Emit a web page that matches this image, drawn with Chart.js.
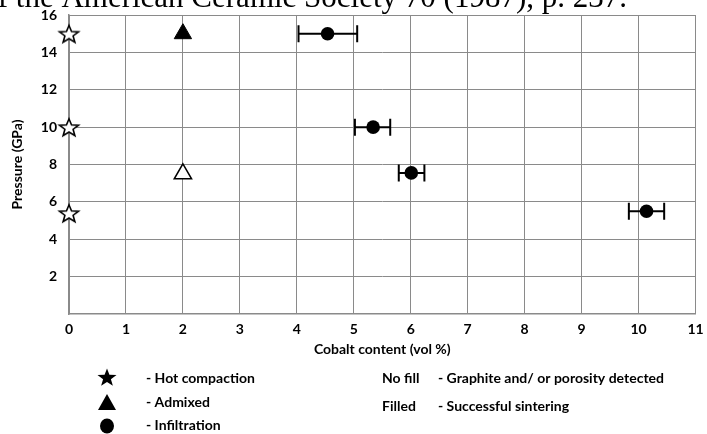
<!DOCTYPE html>
<html>
<head>
<meta charset="utf-8">
<script src="https://cdn.jsdelivr.net/npm/chart.js@4.4.1/dist/chart.umd.min.js"></script>
<style>
  body { margin: 0; background: #fff; }
  #box { width: 707px; height: 434px; }
</style>
</head>
<body>
<div id="box"><canvas id="dia"></canvas></div>
<script>
// data
const starX = [0, 0, 0];
const starY = [15, 10, 5.4];
const triFullX = [2];
const triFullY = [15];
const triEmptyX = [2];
const triEmptyY = [7.5];
const circX = [4.54, 5.34, 6.01, 10.14];
const circY = [15, 10, 7.55, 5.5];
const errLow = [4.03, 5.02, 5.79, 9.83];
const errHigh = [5.06, 5.64, 6.24, 10.45];
const xTicks = [0, 1, 2, 3, 4, 5, 6, 7, 8, 9, 10, 11];
const yTicks = [2, 4, 6, 8, 10, 12, 14, 16];

const cite = "Journal of the American Ceramic Society 70 (1987), p. 237.";
const legendLeft = ["- Hot compaction", "- Admixed", "- Infiltration"];
const legendRight = [["No fill", "- Graphite and/ or porosity detected"], ["Filled", "- Successful sintering"]];

const FONT = "Lato, 'Liberation Sans', sans-serif";

function pts(xs, ys) {
  return xs.map((x, i) => ({ x: x, y: ys[i] }));
}

// 5 branch star as a small canvas, used as pointStyle
function starPath(ctx, cx, cy, R, r, sy) {
  ctx.beginPath();
  for (let k = 0; k < 10; k++) {
    let a = -Math.PI / 2 + k * Math.PI / 5;
    let rad = k % 2 == 0 ? R : r;
    let px = cx + rad * Math.cos(a), py = cy + rad * Math.sin(a) * sy;
    if (k == 0) ctx.moveTo(px, py); else ctx.lineTo(px, py);
  }
  ctx.closePath();
}
function makeStar(filled) {
  let c = document.createElement("canvas");
  c.width = 24; c.height = 22;
  let g = c.getContext("2d");
  starPath(g, 12, 12, 10, 4.3, 0.92);
  g.fillStyle = filled ? "#000" : "#fff";
  g.fill();
  g.lineWidth = 1.6;
  g.strokeStyle = "#000";
  g.stroke();
  return c;
}
const starImg = makeStar(false);

// horizontal error bars on the circles
const errorBars = {
  id: "errorBars",
  beforeDatasetsDraw(chart) {
    const ctx = chart.ctx, xs = chart.scales.x, ys = chart.scales.y;
    ctx.save();
    ctx.strokeStyle = "#000";
    ctx.lineWidth = 2;
    circY.forEach((v, i) => {
      let y = ys.getPixelForValue(v);
      let a = xs.getPixelForValue(errLow[i]);
      let b = xs.getPixelForValue(errHigh[i]);
      ctx.beginPath();
      ctx.moveTo(a, y); ctx.lineTo(b, y);
      ctx.moveTo(a, y - 8.5); ctx.lineTo(a, y + 8.5);
      ctx.moveTo(b, y - 8.5); ctx.lineTo(b, y + 8.5);
      ctx.stroke();
    });
    ctx.restore();
  }
};

// citation text at top + legend under the axis
const extras = {
  id: "extras",
  afterDraw(chart) {
    const ctx = chart.ctx;
    ctx.save();
    ctx.fillStyle = "#000";
    ctx.font = "31px 'Liberation Serif', serif";
    ctx.textAlign = "right";
    ctx.textBaseline = "alphabetic";
    ctx.fillText(cite, 627, 7);

    // symbols
    let sx = 107;
    starPath(ctx, sx, 378, 10, 4.1, 0.95);
    ctx.fill();
    ctx.beginPath();
    ctx.moveTo(sx, 394); ctx.lineTo(sx + 9, 410); ctx.lineTo(sx - 9, 410);
    ctx.closePath(); ctx.fill();
    ctx.beginPath();
    ctx.ellipse(sx, 426, 7, 7.5, 0, 0, Math.PI * 2);
    ctx.fill();

    ctx.font = "bold 14px " + FONT;
    ctx.textAlign = "left";
    ctx.textBaseline = "middle";
    let ly = [378, 402, 425];
    legendLeft.forEach((t, i) => ctx.fillText(t, 146, ly[i]));
    let ry = [378, 406];
    legendRight.forEach((p, i) => {
      ctx.fillText(p[0], 382, ry[i]);
      ctx.fillText(p[1], 438, ry[i]);
    });
    ctx.restore();
  }
};

const gridCol = "#8a8a8a";

new Chart(document.getElementById("dia"), {
  type: "scatter",
  data: {
    datasets: [
      { data: pts(starX, starY), pointStyle: starImg, clip: false },
      { data: pts(triFullX, triFullY), pointStyle: "triangle", pointRadius: 10,
        backgroundColor: "#000", borderColor: "#000", borderWidth: 1, clip: false },
      { data: pts(triEmptyX, triEmptyY), pointStyle: "triangle", pointRadius: 10,
        backgroundColor: "#fff", borderColor: "#000", borderWidth: 1.5, clip: false },
      { data: pts(circX, circY), pointStyle: "circle", pointRadius: 6.8,
        backgroundColor: "#000", borderColor: "#000", borderWidth: 0, clip: false }
    ]
  },
  options: {
    responsive: true,
    maintainAspectRatio: false,
    animation: false,
    events: [],
    layout: { padding: { top: 15, right: 8, left: 0, bottom: 0 } },
    plugins: { legend: { display: false }, tooltip: { enabled: false } },
    scales: {
      x: {
        type: "linear", min: 0, max: 11,
        afterBuildTicks: s => { s.ticks = xTicks.map(v => ({ value: v })); },
        afterFit: s => { s.height = 120; s.paddingLeft = 0; s.paddingRight = 0; },
        grid: { color: gridCol, lineWidth: 1, drawTicks: false },
        border: { color: gridCol, width: 1.5 },
        ticks: { color: "#000", padding: 7, font: { family: FONT, size: 14, weight: "bold" } },
        title: { display: true, text: "Cobalt content (vol %)", color: "#000",
          padding: { top: 0, bottom: 76 }, font: { family: FONT, size: 14, weight: "bold" } }
      },
      y: {
        type: "linear", min: 0, max: 16,
        afterBuildTicks: s => { s.ticks = yTicks.map(v => ({ value: v })); },
        afterFit: s => { s.width = 69; s.paddingTop = 0; s.paddingBottom = 0; },
        grid: { color: gridCol, lineWidth: 1, drawTicks: false },
        border: { color: gridCol, width: 1.5 },
        ticks: { color: "#000", padding: 12, font: { family: FONT, size: 14, weight: "bold" } },
        title: { display: true, text: "Pressure (GPa)", color: "#000",
          padding: { top: 9, bottom: 0 }, font: { family: FONT, size: 14, weight: "bold" } }
      }
    }
  },
  plugins: [errorBars, extras]
});
</script>
</body>
</html>
